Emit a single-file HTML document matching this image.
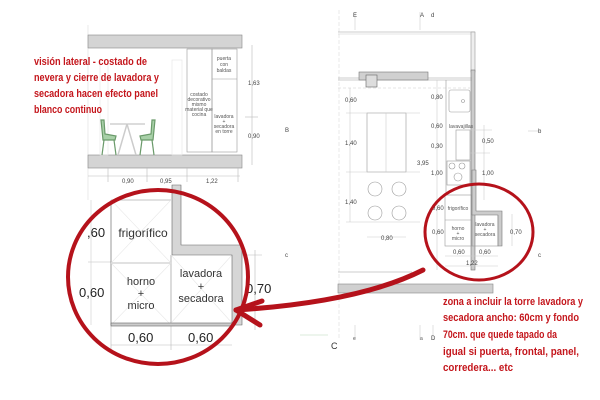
<!DOCTYPE html>
<html><head><meta charset="utf-8"><style>
html,body{margin:0;padding:0;background:#fff;}
svg{display:block;}
text{font-family:"Liberation Sans",sans-serif;}
.r{fill:#c4161c;font-weight:bold;font-size:11px;}
.s{fill:#555;font-size:5px;}
.d{fill:#444;font-size:6px;}
</style></head><body>
<svg width="600" height="400" viewBox="0 0 600 400" xmlns="http://www.w3.org/2000/svg">
<!-- LEFT ELEVATION -->
<g stroke="#999" stroke-width="0.6" fill="none">
<line x1="88" y1="25" x2="88" y2="200" stroke="#ddd"/>
<rect x="88" y="35" width="154" height="13" fill="#d4d4d4" stroke="#888"/>
<rect x="88" y="155" width="154" height="13" fill="#d4d4d4" stroke="#888"/>
<rect x="187" y="49" width="25" height="103"/>
<rect x="212" y="49" width="25" height="103"/>
<line x1="212" y1="79" x2="237" y2="79"/>
<line x1="252" y1="45" x2="252" y2="165" stroke="#bbb"/>
<line x1="245" y1="117" x2="258" y2="117" stroke="#bbb"/>
<line x1="88" y1="176" x2="240" y2="176" stroke="#bbb"/>
<line x1="108" y1="168" x2="108" y2="182" stroke="#bbb"/>
<line x1="147" y1="168" x2="147" y2="182" stroke="#bbb"/>
<line x1="187" y1="168" x2="187" y2="182" stroke="#bbb"/>
<line x1="238" y1="168" x2="238" y2="182" stroke="#bbb"/>
<rect x="100" y="60" width="8" height="95" stroke="#e4e4e4"/>
<rect x="172" y="60" width="10" height="95" stroke="#e4e4e4"/>
<line x1="110" y1="124" x2="145" y2="124" stroke="#777"/>
<line x1="127" y1="124" x2="118" y2="155" stroke="#ccc" stroke-width="1.5"/>
<line x1="127" y1="124" x2="136" y2="155" stroke="#ccc" stroke-width="1.5"/>
</g>
<g stroke="#6a9a6a" stroke-width="1.2" fill="#a8d0a8">
<path d="M101 120 L103 140 L115 140 L116 136 L105 134 L104 120 Z"/>
<line x1="104" y1="140" x2="102" y2="155"/><line x1="114" y1="140" x2="116" y2="155"/>
<path d="M155 120 L153 140 L141 140 L140 136 L151 134 L152 120 Z"/>
<line x1="152" y1="140" x2="154" y2="155"/><line x1="142" y1="140" x2="140" y2="155"/>
</g>
<text class="s" x="224" y="60" text-anchor="middle">puerta</text>
<text class="s" x="224" y="66" text-anchor="middle">con</text>
<text class="s" x="224" y="72" text-anchor="middle">baldas</text>
<text class="s" x="199" y="96" text-anchor="middle">costado</text>
<text class="s" x="199" y="101" text-anchor="middle">decorativo</text>
<text class="s" x="199" y="106" text-anchor="middle">mismo</text>
<text class="s" x="199" y="111" text-anchor="middle">material que</text>
<text class="s" x="199" y="116" text-anchor="middle">cocina</text>
<text class="s" x="224" y="118" text-anchor="middle">lavadora</text>
<text class="s" x="224" y="123" text-anchor="middle">+</text>
<text class="s" x="224" y="128" text-anchor="middle">secadora</text>
<text class="s" x="224" y="133" text-anchor="middle">en torre</text>
<text class="d" x="248" y="85">1,63</text>
<text class="d" x="248" y="138">0,90</text>
<text class="d" x="285" y="132">B</text>
<text class="d" x="122" y="183">0,90</text>
<text class="d" x="160" y="183">0,95</text>
<text class="d" x="206" y="183">1,22</text>
<text class="r" x="34" y="65" textLength="113" lengthAdjust="spacingAndGlyphs">visión lateral - costado de</text>
<text class="r" x="34" y="81" textLength="125" lengthAdjust="spacingAndGlyphs">nevera y cierre de lavadora y</text>
<text class="r" x="34" y="97" textLength="124" lengthAdjust="spacingAndGlyphs">secadora hacen efecto panel</text>
<text class="r" x="34" y="113" textLength="68" lengthAdjust="spacingAndGlyphs">blanco continuo</text>

<!-- BIG DETAIL -->
<g stroke="#888" stroke-width="0.6" fill="none">
<line x1="88" y1="262" x2="111" y2="262" stroke="#bbb"/>
<line x1="91" y1="200" x2="91" y2="325" stroke="#ccc"/>
<line x1="111" y1="345" x2="232" y2="345" stroke="#bbb"/>
<line x1="111" y1="325" x2="111" y2="350" stroke="#bbb"/>
<line x1="171" y1="325" x2="171" y2="350" stroke="#bbb"/>
<line x1="242" y1="255" x2="262" y2="255" stroke="#bbb"/>
<line x1="255" y1="250" x2="255" y2="330" stroke="#bbb"/>
<line x1="111" y1="200" x2="171" y2="200"/>
<line x1="111" y1="200" x2="111" y2="325" stroke="#555"/>
<line x1="111" y1="263" x2="171" y2="263"/>
<line x1="171" y1="255" x2="171" y2="325"/>
<line x1="111" y1="200" x2="171" y2="263" stroke="#e8e8e8"/>
<line x1="171" y1="200" x2="111" y2="263" stroke="#e8e8e8"/>
<line x1="111" y1="263" x2="171" y2="325" stroke="#e8e8e8"/>
<line x1="171" y1="263" x2="111" y2="325" stroke="#e8e8e8"/>
<line x1="171" y1="255" x2="232" y2="323" stroke="#e8e8e8"/>
<line x1="232" y1="255" x2="171" y2="323" stroke="#e8e8e8"/>
<path d="M172 185 L181 185 L181 245 L242 245 L242 325 L232 325 L232 255 L172 255 Z" fill="#d6d6d6" stroke="#666"/>
<rect x="111" y="323" width="121" height="3" fill="#ccc" stroke="#666"/>
</g>
<text x="143" y="237" font-size="12" fill="#333" text-anchor="middle">frigorífico</text>
<text x="141" y="285" font-size="11" fill="#333" text-anchor="middle">horno</text>
<text x="141" y="297" font-size="11" fill="#333" text-anchor="middle">+</text>
<text x="141" y="309" font-size="11" fill="#333" text-anchor="middle">micro</text>
<text x="201" y="277" font-size="11" fill="#333" text-anchor="middle">lavadora</text>
<text x="201" y="290" font-size="11" fill="#333" text-anchor="middle">+</text>
<text x="201" y="302" font-size="11" fill="#333" text-anchor="middle">secadora</text>
<text x="87" y="237" font-size="13" fill="#222">,60</text>
<text x="79" y="297" font-size="13" fill="#222">0,60</text>
<text x="246" y="293" font-size="13" fill="#222">0,70</text>
<text x="128" y="342" font-size="13" fill="#222">0,60</text>
<text x="188" y="342" font-size="13" fill="#222">0,60</text>
<text class="d" x="285" y="257">c</text>
<ellipse cx="158" cy="277" rx="90" ry="87" fill="none" stroke="#b5121b" stroke-width="4"/>

<!-- RIGHT PLAN -->
<g stroke="#999" stroke-width="0.6" fill="none">
<line x1="339" y1="10" x2="339" y2="340" stroke="#ddd" stroke-dasharray="4 2"/>
<line x1="338" y1="32" x2="475" y2="32"/>
<line x1="338" y1="34" x2="475" y2="34" stroke="#ccc"/>
<rect x="471" y="32" width="4" height="40" fill="#eee"/>
<rect x="471" y="70" width="4" height="200" fill="#ccc" stroke="#777"/>
<line x1="338" y1="78" x2="472" y2="78"/>
<line x1="338" y1="80" x2="472" y2="80"/>
<rect x="359" y="72" width="69" height="8" fill="#d0d0d0" stroke="#777"/>
<rect x="366" y="75" width="11" height="12" fill="#ddd" stroke="#666"/>
<line x1="338" y1="88" x2="470" y2="88" stroke="#ccc" stroke-dasharray="3 2"/>
<line x1="355" y1="12" x2="355" y2="30" stroke="#ccc"/>
<line x1="420" y1="12" x2="420" y2="30" stroke="#ccc"/>
<line x1="355" y1="325" x2="355" y2="340" stroke="#ccc"/>
<line x1="420" y1="325" x2="420" y2="340" stroke="#ccc"/>
<line x1="433" y1="325" x2="433" y2="340" stroke="#ccc"/>
<rect x="367" y="113" width="39" height="59"/>
<line x1="386" y1="113" x2="386" y2="172" stroke="#ccc"/>
<line x1="350" y1="88" x2="350" y2="222" stroke="#ccc"/>
<line x1="346" y1="113" x2="420" y2="113" stroke="#ccc"/>
<line x1="346" y1="172" x2="420" y2="172" stroke="#ccc"/>
<line x1="346" y1="222" x2="420" y2="222" stroke="#ccc"/>
<line x1="367" y1="237" x2="406" y2="237" stroke="#ccc"/>
<line x1="437" y1="80" x2="437" y2="270" stroke="#ccc"/>
<line x1="446" y1="80" x2="446" y2="195"/>
<rect x="449" y="90" width="21" height="22" rx="2"/>
<circle cx="463" cy="101" r="1.5"/>
<rect x="456" y="130" width="14" height="30"/>
<rect x="447" y="161" width="23" height="24"/>
<circle cx="452" cy="166" r="3"/><circle cx="462" cy="166" r="3"/><circle cx="458" cy="177" r="4"/>
<line x1="460" y1="130" x2="492" y2="130" stroke="#ccc"/>
<line x1="484" y1="125" x2="484" y2="200" stroke="#ccc"/>
<line x1="470" y1="153" x2="490" y2="153" stroke="#ccc"/>
<line x1="528" y1="131" x2="540" y2="131" stroke="#ccc"/>
<circle cx="375" cy="189" r="7"/><circle cx="399" cy="189" r="7"/>
<circle cx="375" cy="213" r="7"/><circle cx="399" cy="213" r="7"/>
<!-- mini detail -->
<rect x="445" y="195" width="27" height="51"/>
<line x1="445" y1="220" x2="472" y2="220"/>
<rect x="472" y="214" width="26" height="32"/>
<path d="M472 170 L476 170 L476 211 L502 211 L502 246 L498 246 L498 215 L472 215 Z" fill="#ccc" stroke="#777"/>
<line x1="445" y1="256" x2="498" y2="256" stroke="#ccc"/>
<line x1="445" y1="266" x2="498" y2="266" stroke="#ccc"/>
<line x1="512" y1="214" x2="512" y2="246" stroke="#ccc"/>
<line x1="338" y1="272" x2="412" y2="272"/>
<rect x="338" y="284" width="155" height="9" fill="#d0d0d0" stroke="#888"/>
<line x1="300" y1="335" x2="328" y2="335" stroke="#b8d8b8"/>
</g>
<text class="d" x="353" y="17">E</text>
<text class="d" x="420" y="17">A</text>
<text class="d" x="431" y="17">d</text>
<text class="d" x="345" y="102">0,60</text>
<text class="d" x="345" y="145">1,40</text>
<text class="d" x="345" y="204">1,40</text>
<text class="d" x="381" y="240">0,80</text>
<text class="d" x="431" y="99">0,80</text>
<text class="d" x="431" y="128">0,60</text>
<text class="s" x="449" y="128">lavavajillas</text>
<text class="d" x="431" y="148">0,30</text>
<text class="d" x="417" y="165">3,95</text>
<text class="d" x="431" y="175">1,00</text>
<text class="d" x="482" y="143">0,50</text>
<text class="d" x="482" y="175">1,00</text>
<text class="d" x="538" y="133">b</text>
<text class="s" x="458" y="210" text-anchor="middle">frigorífico</text>
<text class="s" x="458" y="230" text-anchor="middle">horno</text>
<text class="s" x="458" y="235" text-anchor="middle">+</text>
<text class="s" x="458" y="240" text-anchor="middle">micro</text>
<text class="s" x="485" y="226" text-anchor="middle">lavadora</text>
<text class="s" x="485" y="231" text-anchor="middle">+</text>
<text class="s" x="485" y="236" text-anchor="middle">secadora</text>
<text class="d" x="432" y="210">0,60</text>
<text class="d" x="432" y="234">0,60</text>
<text class="d" x="510" y="234">0,70</text>
<text class="d" x="453" y="254">0,60</text>
<text class="d" x="479" y="254">0,60</text>
<text class="d" x="466" y="265">1,22</text>
<text class="d" x="538" y="257">c</text>
<text x="331" y="349" font-size="9" fill="#333">C</text>
<text class="s" x="353" y="340">e</text>
<text class="s" x="420" y="340">a</text>
<text class="d" x="431" y="340">D</text>
<ellipse cx="479" cy="232" rx="54" ry="48" fill="none" stroke="#b5121b" stroke-width="3"/>
<text class="r" x="443" y="305" textLength="140" lengthAdjust="spacingAndGlyphs">zona a incluir la torre lavadora y</text>
<text class="r" x="443" y="321" textLength="136" lengthAdjust="spacingAndGlyphs">secadora ancho: 60cm y fondo</text>
<text class="r" x="443" y="338" textLength="114" lengthAdjust="spacingAndGlyphs">70cm. que quede tapado da</text>
<text class="r" x="443" y="355" textLength="136" lengthAdjust="spacingAndGlyphs">igual si puerta, frontal, panel,</text>
<text class="r" x="443" y="371" textLength="70" lengthAdjust="spacingAndGlyphs">corredera... etc</text>

<!-- ARROW -->
<g stroke="#b5121b" stroke-width="5" fill="none" stroke-linecap="round">
<path d="M423 270 Q360 302 236 310"/>
<line x1="236" y1="310" x2="262" y2="301"/>
<line x1="236" y1="310" x2="260" y2="325"/>
</g>
</svg>
</body></html>
